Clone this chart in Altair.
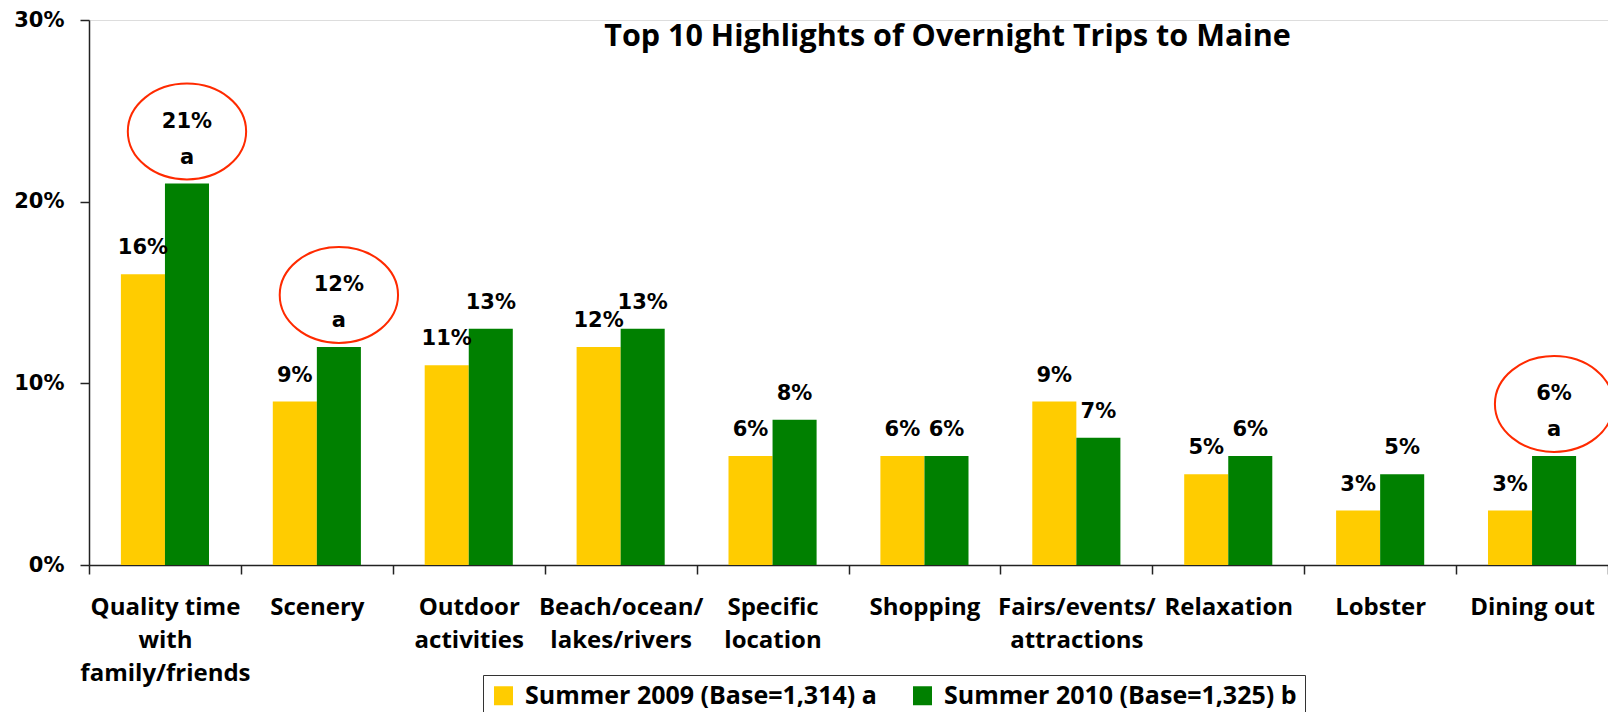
import altair as alt
import pandas as pd

categories = [
    "Quality time\nwith\nfamily/friends",
    "Scenery",
    "Outdoor\nactivities",
    "Beach/ocean/\nlakes/rivers",
    "Specific\nlocation",
    "Shopping",
    "Fairs/events/\nattractions",
    "Relaxation",
    "Lobster",
    "Dining out",
]
series_names = ["Summer 2009 (Base=1,314) a", "Summer 2010 (Base=1,325) b"]
values_2009 = [16, 9, 11, 12, 6, 6, 9, 5, 3, 3]
values_2010 = [21, 12, 13, 13, 8, 6, 7, 6, 5, 6]
sig_2009 = ["", "", "", "", "", "", "", "", "", ""]
sig_2010 = ["a", "a", "", "", "", "", "", "", "", "a"]
colors = ["#FFCC00", "#008000"]
title_text = "Top 10 Highlights of Overnight Trips to Maine"

rows = []
for vals, sigs, name in [(values_2009, sig_2009, series_names[0]), (values_2010, sig_2010, series_names[1])]:
    for c, v, s in zip(categories, vals, sigs):
        rows.append({
            "cat": c,
            "series": name,
            "value": v,
            "sig": s,
            "label": f"{v}%",
        })
df = pd.DataFrame(rows)

x_enc = alt.X(
    "cat:N",
    sort=categories,
    title=None,
    scale=alt.Scale(paddingInner=0, paddingOuter=0),
    axis=alt.Axis(
        labelExpr="split(datum.label, '\\n')",
        labelAngle=0,
        labelFont="Open Sans",
        labelFontWeight="bold",
        labelFontSize=24,
        labelColor="black",
        labelLineHeight=33,
        labelPadding=21,
        labelLimit=0,
        labelOverlap=False,
        tickBand="extent",
        tickSize=9,
        tickColor="#222",
        tickWidth=1.5,
        domainColor="#222",
        domainWidth=1.5,
    ),
)
xoff = alt.XOffset("series:N", sort=series_names,
                   scale=alt.Scale(paddingInner=0, paddingOuter=0.724))
y_enc = alt.Y(
    "value:Q",
    title=None,
    scale=alt.Scale(domain=[0, 30], nice=False),
    axis=alt.Axis(
        values=[0, 10, 20, 30],
        labelExpr="datum.value + '%'",
        grid=False,
        labelFont="DejaVu Sans",
        labelFontWeight="bold",
        labelFontSize=21,
        labelColor="black",
        labelPadding=16,
        tickSize=9,
        tickColor="#222",
        tickWidth=1.5,
        domainColor="#222",
        domainWidth=1.5,
    ),
)

base = alt.Chart(df)

bars = base.mark_bar().encode(
    x=x_enc,
    xOffset=xoff,
    y=y_enc,
    color=alt.Color(
        "series:N",
        sort=series_names,
        scale=alt.Scale(domain=series_names, range=colors),
        legend=alt.Legend(
            orient="none",
            legendX=394,
            legendY=655,
            direction="horizontal",
            title=None,
            symbolType="square",
            symbolSize=361,
            symbolStrokeWidth=0,
            labelFont="Open Sans",
            labelFontWeight="bold",
            labelFontSize=25,
            labelColor="black",
            labelOffset=9,
            labelLimit=0,
            columnPadding=33,
            padding=8,
            strokeColor="#333",
            fillColor="white",
        ),
    ),
)

text_style = dict(font="DejaVu Sans", fontWeight="bold", fontSize=21,
                  baseline="bottom", color="black")
pos = dict(x=alt.X("cat:N", sort=categories), xOffset=xoff, y=alt.Y("value:Q"))

labels_plain = base.transform_filter("datum.sig == ''").mark_text(
    dy=-16, **text_style
).encode(text="label:N", **pos)

labels_sig_value = base.transform_filter("datum.sig != ''").mark_text(
    dy=-52, **text_style
).encode(text="label:N", **pos)

labels_sig_letter = base.transform_filter("datum.sig != ''").mark_text(
    dy=-16, **text_style
).encode(text="sig:N", **pos)

ellipse_path = "M -1 0 A 1 0.81 0 1 1 1 0 A 1 0.81 0 1 1 -1 0 Z"
ellipses = base.transform_filter("datum.sig != ''").mark_point(
    shape=ellipse_path,
    filled=False,
    stroke="#FF2A00",
    strokeWidth=2,
    size=14000,
    opacity=1,
    yOffset=-52,
).encode(**pos)

chart = alt.layer(bars, labels_plain, labels_sig_value, labels_sig_letter, ellipses).properties(
    width=1519,
    height=545,
    title=alt.TitleParams(
        title_text,
        font="Open Sans",
        fontSize=30.5,
        fontWeight="bold",
        color="black",
        anchor="middle",
        dx=99,
        dy=47,
    ),
    padding={"left": 81, "top": 12, "right": 0, "bottom": 147},
    autosize="none",
).configure_view(strokeWidth=0).configure(background="white")

chart.save("out.html", embed_options={"renderer": "svg", "actions": False})
